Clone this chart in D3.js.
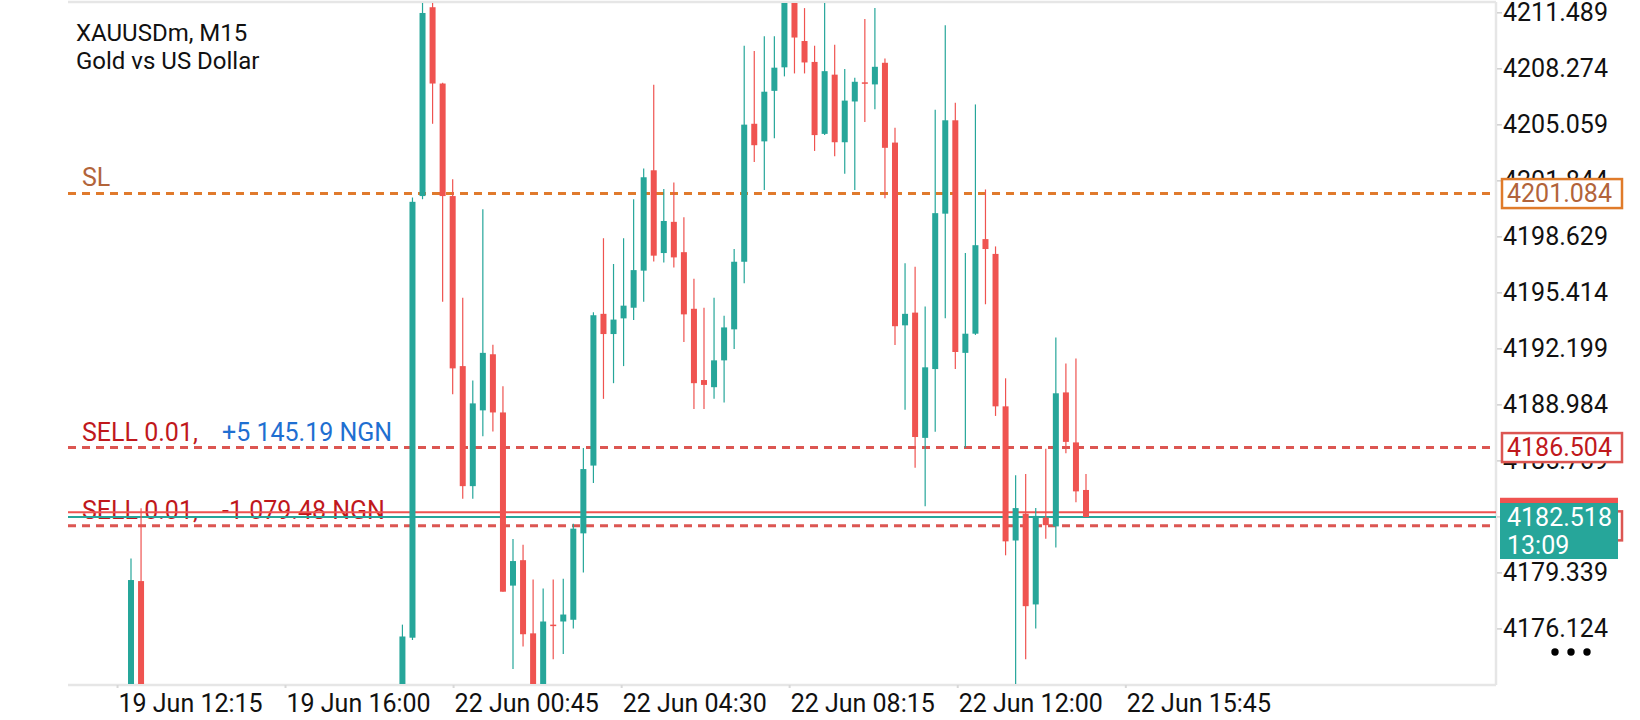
<!DOCTYPE html>
<html lang="en">
<head>
<meta charset="UTF-8" />
<title>XAUUSDm, M15</title>
<script src="https://cdn.jsdelivr.net/npm/d3@7"></script>
<style>
  body { margin: 0; background: #fff; }
  text { font-family: Roboto, 'Noto Sans', sans-serif; }
</style>
</head>
<body>
<svg width="1640" height="720"></svg>
<script>
// M15 bars, index counted from the first visible bar (bars 2..26 lie below the visible range)
var bars   = [0, 1, 27, 28, 29, 30, 31, 32, 33, 34, 35, 36, 37, 38, 39, 40, 41, 42, 43, 44, 45, 46, 47, 48, 49, 50, 51, 52, 53, 54, 55, 56, 57, 58, 59, 60, 61, 62, 63, 64, 65, 66, 67, 68, 69, 70, 71, 72, 73, 74, 75, 76, 77, 78, 79, 80, 81, 82, 83, 84, 85, 86, 87, 88, 89, 90, 91, 92, 93, 94, 95];
var opens  = [4172.4, 4178.84, 4172.5, 4175.59, 4200.94, 4211.78, 4207.40, 4200.94, 4191.18, 4184.29, 4188.64, 4191.86, 4188.52, 4178.58, 4180.04, 4175.84, 4172.7, 4176.34, 4176.52, 4176.62, 4181.58, 4185.47, 4194.18, 4193.02, 4193.92, 4194.53, 4196.66, 4202.42, 4197.67, 4199.46, 4197.72, 4194.47, 4190.38, 4189.97, 4191.51, 4193.29, 4197.17, 4205.09, 4204.08, 4206.98, 4208.33, 4212.2, 4209.84, 4208.64, 4204.51, 4207.91, 4204.03, 4206.37, 4207.47, 4207.35, 4208.59, 4204.01, 4193.52, 4194.25, 4187.06, 4191.01, 4199.93, 4205.29, 4191.94, 4193.04, 4198.47, 4197.62, 4188.87, 4181.17, 4182.71, 4177.50, 4182.48, 4181.98, 4189.67, 4186.80, 4184.07];
var highs  = [4180.14, 4183.02, 4176.34, 4200.86, 4212.5, 4212.3, 4207.45, 4201.90, 4195.10, 4190.35, 4200.19, 4192.41, 4190.02, 4181.25, 4180.92, 4178.93, 4178.41, 4178.93, 4178.98, 4182.13, 4186.48, 4194.27, 4198.52, 4197.04, 4198.52, 4200.76, 4202.52, 4207.33, 4201.34, 4201.72, 4199.73, 4196.19, 4194.53, 4195.10, 4194.07, 4197.90, 4209.57, 4209.27, 4210.12, 4210.12, 4212.6, 4212.6, 4211.73, 4209.57, 4212.2, 4209.62, 4208.23, 4207.73, 4211.10, 4211.73, 4208.84, 4204.86, 4197.09, 4196.89, 4194.60, 4205.90, 4210.75, 4206.30, 4197.67, 4206.20, 4201.32, 4198.05, 4190.48, 4184.92, 4184.99, 4183.03, 4186.43, 4192.82, 4191.33, 4191.61, 4184.99];
var lows   = [4172.0, 4172.0, 4172.2, 4175.46, 4200.76, 4205.09, 4194.88, 4189.57, 4183.56, 4183.56, 4187.16, 4187.43, 4178.23, 4173.80, 4175.08, 4172.0, 4172.3, 4174.36, 4174.66, 4176.12, 4179.33, 4184.47, 4189.30, 4190.20, 4191.18, 4193.82, 4194.88, 4197.19, 4197.12, 4196.84, 4192.56, 4188.72, 4188.72, 4189.30, 4189.09, 4192.16, 4195.94, 4202.90, 4201.29, 4204.26, 4207.81, 4207.98, 4207.98, 4203.53, 4204.44, 4203.23, 4202.22, 4201.29, 4205.19, 4205.92, 4200.81, 4192.39, 4188.67, 4185.35, 4183.13, 4187.41, 4193.92, 4191.01, 4186.50, 4192.97, 4194.73, 4188.32, 4180.32, 4172.9, 4174.36, 4176.12, 4181.27, 4180.77, 4186.18, 4183.36, 4182.518];
var closes = [4178.90, 4172.5, 4175.66, 4200.61, 4211.45, 4207.40, 4200.94, 4191.05, 4184.29, 4189.04, 4191.94, 4188.52, 4178.23, 4179.99, 4175.79, 4172.6, 4176.52, 4176.30, 4176.92, 4181.85, 4185.27, 4194.10, 4193.02, 4193.85, 4194.65, 4196.69, 4202.02, 4197.52, 4199.51, 4197.42, 4194.15, 4190.20, 4190.10, 4191.51, 4193.40, 4197.17, 4205.04, 4203.86, 4206.93, 4208.31, 4212.3, 4210.04, 4208.61, 4204.44, 4208.11, 4204.03, 4206.42, 4207.50, 4207.43, 4208.36, 4203.71, 4193.47, 4194.18, 4187.11, 4191.11, 4199.96, 4205.29, 4191.99, 4193.04, 4198.12, 4197.90, 4188.87, 4181.12, 4183.03, 4177.40, 4182.58, 4182.05, 4189.62, 4186.83, 4183.99, 4182.518];

// price scale labels
var priceTicks = ['4176.124', '4179.339', '4182.554', '4185.769', '4188.984', '4192.199', '4195.414', '4198.629', '4201.844', '4205.059', '4208.274', '4211.489'];
// time scale labels and the bar position they sit on
var timeTicks = ['19 Jun 12:15', '19 Jun 16:00', '22 Jun 00:45', '22 Jun 04:30', '22 Jun 08:15', '22 Jun 12:00', '22 Jun 15:45'];
var timeTickBars = [-1.39, 15.32, 32.04, 48.76, 65.47, 82.19, 98.91];

// trade levels
var slPrice = 4201.084;
var orderPrices = [4186.504, 4182.01];
var orderLabels = ['SELL 0.01,', 'SELL 0.01,'];
var orderProfits = ['+5 145.19 NGN', '-1 079.48 NGN'];
var bid = 4182.518;
var ask = 4182.79;
var countdown = '13:09';

var GREEN = '#26a69a', RED = '#ef5350';
var plotL = 68, plotR = 1496, plotT = 2, plotB = 684;

var svg = d3.select('svg');
svg.append('rect').attr('width', 1640).attr('height', 720).attr('fill', '#fff');

var x = d3.scaleLinear().domain([0, 95]).range([131, 1086]);
var y = d3.scaleLinear().domain([4172.99, 4212.08]).range([683, 2]);

// frame
var frame = svg.append('g').attr('stroke', '#e6e6e6').attr('stroke-width', 2.5);
frame.append('line').attr('x1', plotL).attr('x2', plotR).attr('y1', plotT).attr('y2', plotT);
frame.append('line').attr('x1', plotR).attr('x2', plotR).attr('y1', plotT).attr('y2', plotB + 1);
frame.append('line').attr('x1', plotL).attr('x2', plotR).attr('y1', plotB + 1).attr('y2', plotB + 1);

// symbol
svg.append('text').attr('x', 76).attr('y', 33).attr('dominant-baseline', 'central')
  .attr('font-size', 24).attr('fill', '#111').text('XAUUSDm, M15');
svg.append('text').attr('x', 76).attr('y', 61).attr('dominant-baseline', 'central')
  .attr('font-size', 24).attr('fill', '#111').text('Gold vs US Dollar');

// level captions
svg.append('text').attr('x', 82).attr('y', y(slPrice) - 16).attr('dominant-baseline', 'central')
  .attr('font-size', 25).attr('fill', '#b2643a').text('SL');
orderPrices.forEach(function (p, i) {
  var t = svg.append('text').attr('x', 82).attr('y', y(p) - 16).attr('dominant-baseline', 'central')
    .attr('font-size', 25);
  t.append('tspan').attr('fill', '#c0181c').text(orderLabels[i]);
  t.append('tspan').attr('x', 222).attr('fill', orderProfits[i][0] === '+' ? '#1f6fd1' : '#c0181c').text(orderProfits[i]);
});

// level lines
var lines = svg.append('g');
lines.append('line').attr('x1', plotL).attr('x2', plotR - 3).attr('y1', y(slPrice)).attr('y2', y(slPrice))
  .attr('stroke', '#e07a2c').attr('stroke-width', 3).attr('stroke-dasharray', '8,6');
orderPrices.forEach(function (p) {
  lines.append('line').attr('x1', plotL).attr('x2', plotR - 3).attr('y1', y(p)).attr('y2', y(p))
    .attr('stroke', '#dc5652').attr('stroke-width', 3).attr('stroke-dasharray', '8,6');
});
lines.append('line').attr('x1', plotL).attr('x2', plotR).attr('y1', y(ask)).attr('y2', y(ask))
  .attr('stroke', RED).attr('stroke-width', 2);
lines.append('line').attr('x1', plotL).attr('x2', plotR).attr('y1', y(bid)).attr('y2', y(bid))
  .attr('stroke', GREEN).attr('stroke-width', 1.8);

// candles
svg.append('defs').append('clipPath').attr('id', 'plot').append('rect')
  .attr('x', plotL).attr('y', plotT + 1).attr('width', plotR - plotL - 1).attr('height', plotB - plotT - 1);
var candles = svg.append('g').attr('clip-path', 'url(#plot)')
  .selectAll('g').data(bars).enter().append('g');
function col(i) { return closes[i] >= opens[i] ? GREEN : RED; }
candles.append('line')
  .attr('x1', function (d) { return x(d); })
  .attr('x2', function (d) { return x(d); })
  .attr('y1', function (d, i) { return y(highs[i]); })
  .attr('y2', function (d, i) { return y(lows[i]); })
  .attr('stroke', function (d, i) { return col(i); })
  .attr('stroke-width', 1.2);
candles.append('rect')
  .attr('x', function (d) { return x(d) - 3; })
  .attr('width', 6)
  .attr('y', function (d, i) { return y(Math.max(opens[i], closes[i])); })
  .attr('height', function (d, i) { return Math.max(1.5, Math.abs(y(opens[i]) - y(closes[i]))); })
  .attr('fill', function (d, i) { return col(i); });

// price axis
var yAxis = svg.append('g').attr('transform', 'translate(' + (plotR + 1) + ',0)')
  .call(d3.axisRight(y).tickValues(priceTicks.map(Number)).tickSize(5).tickPadding(1)
    .tickFormat(function (d, i) { return priceTicks[i]; }));
yAxis.select('.domain').remove();
yAxis.selectAll('line').attr('stroke', '#d0d0d0').attr('stroke-width', 1.5);
yAxis.selectAll('text').attr('font-size', 25).attr('fill', '#111')
  .attr('font-family', 'Roboto, sans-serif');

// price boxes
function priceBox(p, stroke, color) {
  var cy = y(p);
  var g = svg.append('g');
  g.append('rect').attr('x', 1502).attr('y', cy - 14.5).attr('width', 120).attr('height', 29)
    .attr('fill', '#fff').attr('stroke', stroke).attr('stroke-width', 2.5);
  g.append('text').attr('x', 1507).attr('y', cy).attr('dominant-baseline', 'central')
    .attr('font-size', 25).attr('fill', color).text(p.toFixed(3));
}
priceBox(slPrice, '#e07b2a', '#b2643a');
priceBox(orderPrices[0], '#dc5652', '#c0181c');
priceBox(orderPrices[1], '#dc5652', '#c0181c');
svg.append('rect').attr('x', 1500).attr('y', y(ask) - 14.5).attr('width', 118).attr('height', 29).attr('fill', RED);
svg.append('rect').attr('x', 1500).attr('y', y(bid) - 14).attr('width', 118).attr('height', 56).attr('fill', GREEN);
svg.append('text').attr('x', 1507).attr('y', y(bid)).attr('dominant-baseline', 'central')
  .attr('font-size', 25).attr('fill', '#fff').text(bid.toFixed(3));
svg.append('text').attr('x', 1507).attr('y', y(bid) + 28).attr('dominant-baseline', 'central')
  .attr('font-size', 25).attr('fill', '#fff').text(countdown);

// time axis
var xAxis = svg.append('g').attr('transform', 'translate(0,' + (plotB + 1) + ')')
  .call(d3.axisBottom(x).tickValues(timeTickBars).tickSize(3).tickPadding(6)
    .tickFormat(function (d, i) { return timeTicks[i]; }));
xAxis.select('.domain').remove();
xAxis.selectAll('line').attr('stroke', '#d8d8d8').attr('stroke-width', 2);
xAxis.selectAll('text').attr('font-size', 25).attr('fill', '#111').attr('text-anchor', 'start')
  .attr('x', 1).attr('font-family', 'Roboto, sans-serif');

// menu dots
svg.selectAll('circle.dot').data([0, 1, 2]).enter().append('circle')
  .attr('cx', function (d) { return 1555 + d * 16; }).attr('cy', 652).attr('r', 3.7).attr('fill', '#000');
</script>
</body>
</html>
